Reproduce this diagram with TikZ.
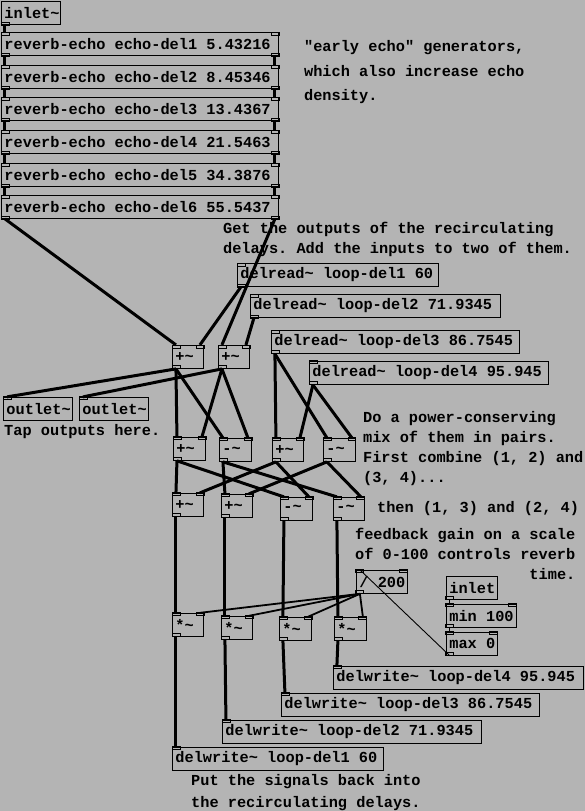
\documentclass[tikz,border=0pt]{standalone}
\usepackage{fontspec}
\setmonofont{Liberation Mono}
\hyphenpenalty=10000
\exhyphenpenalty=10000
\definecolor{pdgray}{RGB}{180,180,180}
\newcommand{\pdfont}{\ttfamily\bfseries\fontsize{15.3}{20}\selectfont}
\newcommand{\tld}{\textasciitilde}
\tikzset{
  obj/.style={draw, line width=1pt, anchor=north west, inner xsep=3pt, inner ysep=0pt,
    minimum height=23pt, text width=#1pt, align=flush left, font=\pdfont,
    execute at begin node={\hbox\bgroup}, execute at end node={\egroup}},
  note/.style={anchor=base west, inner sep=0pt, align=left, font=\pdfont},
  sig/.style={line width=3pt},
  ctl/.style={line width=1.8pt},
  thin/.style={line width=0.9pt},
  nub/.style={line width=0.8pt},
}
\begin{document}
\begin{tikzpicture}[x=1pt,y=-1pt]
  \fill[pdgray] (0,0) rectangle (585,811);
  % ingresso e generatori di eco
  \node[obj=53] (inl) at (1,1) {inlet\tld};
  \node[obj=271] (e1) at (1,32) {reverb-echo echo-del1 5.43216};
  \node[obj=271] (e2) at (1,65) {reverb-echo echo-del2 8.45346};
  \node[obj=271] (e3) at (1,97) {reverb-echo echo-del3 13.4367};
  \node[obj=271] (e4) at (1,130) {reverb-echo echo-del4 21.5463};
  \node[obj=271] (e5) at (1,163) {reverb-echo echo-del5 34.3876};
  \node[obj=271] (e6) at (1,195) {reverb-echo echo-del6 55.5437};
  \node[note] (cEarly) at (304,101) {"early echo" generators,\\[5pt]which also increase echo\\[4pt]density.};
  % letture dalle linee di ritardo
  \node[note] (cGet) at (223,254) {Get the outputs of the recirculating\\delays. Add the inputs to two of them.};
  \node[obj=195] (dr1) at (237,263) {delread\tld{} loop-del1 60};
  \node[obj=244] (dr2) at (250,294) {delread\tld{} loop-del2 71.9345};
  \node[obj=242] (dr3) at (271,330) {delread\tld{} loop-del3 86.7545};
  \node[obj=233] (dr4) at (309,361) {delread\tld{} loop-del4 95.945};
  \node[obj=25] (a1) at (172,345) {+\tld};
  \node[obj=25] (a2) at (218,345) {+\tld};
  \node[obj=63] (o1) at (3,397) {outlet\tld};
  \node[obj=63] (o2) at (79,397) {outlet\tld};
  \node[note] (cTap) at (4,436) {Tap outputs here.};
  % mix a coppie
  \node[obj=26] (b1) at (173,437) {+\tld};
  \node[obj=26] (b2) at (219,438) {-\tld};
  \node[obj=25] (b3) at (272,438) {+\tld};
  \node[obj=26] (b4) at (323,438) {-\tld};
  \node[obj=25] (c1) at (172,493) {+\tld};
  \node[obj=25] (c2) at (221,494) {+\tld};
  \node[obj=26] (c3) at (280,497) {-\tld};
  \node[obj=25] (c4) at (333,497) {-\tld};
  \node[note] (cMix) at (363,483) {Do a power-conserving\\mix of them in pairs.\\First combine (1, 2) and\\(3, 4)...};
  \node[note] (cThen) at (377,513) {then (1, 3) and (2, 4)};
  % guadagno di retroazione
  \node[note, align=right] (cGain) at (355,580) {feedback gain on a scale\\of 0-100 controls reverb\\time.};
  \node[obj=45] (div) at (356,570) {/ 200};
  \node[obj=45] (cin) at (446,576) {inlet};
  \node[obj=64] (cmin) at (446,604) {min 100};
  \node[obj=45] (cmax) at (446,632) {max 0};
  \node[obj=25] (m1) at (172,613) {*\tld};
  \node[obj=25] (m2) at (221,616) {*\tld};
  \node[obj=26] (m3) at (279,617) {*\tld};
  \node[obj=26] (m4) at (334,617) {*\tld};
  % scrittura nelle linee di ritardo
  \node[obj=244] (w4) at (333,666) {delwrite\tld{} loop-del4 95.945};
  \node[obj=252] (w3) at (281,693) {delwrite\tld{} loop-del3 86.7545};
  \node[obj=253] (w2) at (222,720) {delwrite\tld{} loop-del2 71.9345};
  \node[obj=205] (w1) at (172,747) {delwrite\tld{} loop-del1 60};
  \node[note] (cPut) at (191,808) {Put the signals back into\\[2pt]the recirculating delays.};
  % prese
  \foreach \n in {e1,e2,e3,e4,e5,e6,dr1,dr2,dr3,dr4,a1,a2,o1,o2,b1,b2,b3,b4,c1,c2,c3,c4,m1,m2,m3,m4,div,cmin,cmax,w1,w2,w3,w4}
    \draw[nub] (\n.north west) rectangle ++(8,3);
  \foreach \n in {e1,e2,e3,e4,e5,e6,a1,a2,b1,b2,b3,b4,c1,c2,c3,c4,m1,m2,m3,m4,div,cmin,cmax}
    \draw[nub] (\n.north east) rectangle ++(-8,3);
  \foreach \n in {inl,e1,e2,e3,e4,e5,e6,dr1,dr2,dr3,dr4,a1,a2,b1,b2,b3,b4,c1,c2,c3,c4,m1,m2,m3,m4,div,cin,cmin,cmax}
    \draw[nub] (\n.south west) rectangle ++(8,-3);
  \foreach \n in {e1,e2,e3,e4,e5,e6}
    \draw[nub] (\n.south east) rectangle ++(-8,-3);
  % catena degli eco
  \draw[sig] ([xshift=4pt]inl.south west) -- ([xshift=4pt]e1.north west);
  \draw[sig] ([xshift=4pt]e1.south west) -- ([xshift=4pt]e2.north west);
  \draw[sig] ([xshift=-4pt]e1.south east) -- ([xshift=-4pt]e2.north east);
  \draw[sig] ([xshift=4pt]e2.south west) -- ([xshift=4pt]e3.north west);
  \draw[sig] ([xshift=-4pt]e2.south east) -- ([xshift=-4pt]e3.north east);
  \draw[sig] ([xshift=4pt]e3.south west) -- ([xshift=4pt]e4.north west);
  \draw[sig] ([xshift=-4pt]e3.south east) -- ([xshift=-4pt]e4.north east);
  \draw[sig] ([xshift=4pt]e4.south west) -- ([xshift=4pt]e5.north west);
  \draw[sig] ([xshift=-4pt]e4.south east) -- ([xshift=-4pt]e5.north east);
  \draw[sig] ([xshift=4pt]e5.south west) -- ([xshift=4pt]e6.north west);
  \draw[sig] ([xshift=-4pt]e5.south east) -- ([xshift=-4pt]e6.north east);
  \draw[sig] ([xshift=4pt]e6.south west) -- ([xshift=4pt]a1.north west);
  \draw[sig] ([xshift=-4pt]e6.south east) -- ([xshift=4pt]a2.north west);
  \draw[sig] ([xshift=4pt]dr1.south west) -- ([xshift=-4pt]a1.north east);
  \draw[sig] ([xshift=4pt]dr2.south west) -- ([xshift=-4pt]a2.north east);
  \draw[sig] ([xshift=4pt]a1.south west) -- ([xshift=4pt]o1.north west);
  \draw[sig] ([xshift=4pt]a2.south west) -- ([xshift=4pt]o2.north west);
  % primo mix: (1, 2) e (3, 4)
  \draw[sig] ([xshift=4pt]a1.south west) -- ([xshift=4pt]b1.north west);
  \draw[sig] ([xshift=4pt]a1.south west) -- ([xshift=4pt]b2.north west);
  \draw[sig] ([xshift=4pt]a2.south west) -- ([xshift=-4pt]b1.north east);
  \draw[sig] ([xshift=4pt]a2.south west) -- ([xshift=-4pt]b2.north east);
  \draw[sig] ([xshift=4pt]dr3.south west) -- ([xshift=4pt]b3.north west);
  \draw[sig] ([xshift=4pt]dr3.south west) -- ([xshift=4pt]b4.north west);
  \draw[sig] ([xshift=4pt]dr4.south west) -- ([xshift=-4pt]b3.north east);
  \draw[sig] ([xshift=4pt]dr4.south west) -- ([xshift=-4pt]b4.north east);
  % secondo mix: (1, 3) e (2, 4)
  \draw[sig] ([xshift=4pt]b1.south west) -- ([xshift=4pt]c1.north west);
  \draw[sig] ([xshift=4pt]b1.south west) -- ([xshift=4pt]c3.north west);
  \draw[sig] ([xshift=4pt]b2.south west) -- ([xshift=4pt]c2.north west);
  \draw[sig] ([xshift=4pt]b2.south west) -- ([xshift=4pt]c4.north west);
  \draw[sig] ([xshift=4pt]b3.south west) -- ([xshift=-4pt]c1.north east);
  \draw[sig] ([xshift=4pt]b3.south west) -- ([xshift=-4pt]c3.north east);
  \draw[sig] ([xshift=4pt]b4.south west) -- ([xshift=-4pt]c2.north east);
  \draw[sig] ([xshift=4pt]b4.south west) -- ([xshift=-4pt]c4.north east);
  % moltiplicatori e scrittura
  \draw[sig] ([xshift=4pt]c1.south west) -- ([xshift=4pt]m1.north west);
  \draw[sig] ([xshift=4pt]c2.south west) -- ([xshift=4pt]m2.north west);
  \draw[sig] ([xshift=4pt]c3.south west) -- ([xshift=4pt]m3.north west);
  \draw[sig] ([xshift=4pt]c4.south west) -- ([xshift=4pt]m4.north west);
  \draw[sig] ([xshift=4pt]m1.south west) -- ([xshift=4pt]w1.north west);
  \draw[sig] ([xshift=4pt]m2.south west) -- ([xshift=4pt]w2.north west);
  \draw[sig] ([xshift=4pt]m3.south west) -- ([xshift=4pt]w3.north west);
  \draw[sig] ([xshift=4pt]m4.south west) -- ([xshift=4pt]w4.north west);
  % controllo del guadagno
  \draw[thin] ([xshift=4pt]cin.south west) -- ([xshift=4pt]cmin.north west);
  \draw[thin] ([xshift=4pt]cmin.south west) -- ([xshift=4pt]cmax.north west);
  \draw[thin] ([xshift=4pt]cmax.south west) -- ([xshift=4pt]div.north west);
  \draw[ctl] ([xshift=4pt]div.south west) -- ([xshift=-4pt]m1.north east);
  \draw[ctl] ([xshift=4pt]div.south west) -- ([xshift=-4pt]m2.north east);
  \draw[ctl] ([xshift=4pt]div.south west) -- ([xshift=-4pt]m3.north east);
  \draw[ctl] ([xshift=4pt]div.south west) -- ([xshift=-4pt]m4.north east);
\end{tikzpicture}
\end{document}
